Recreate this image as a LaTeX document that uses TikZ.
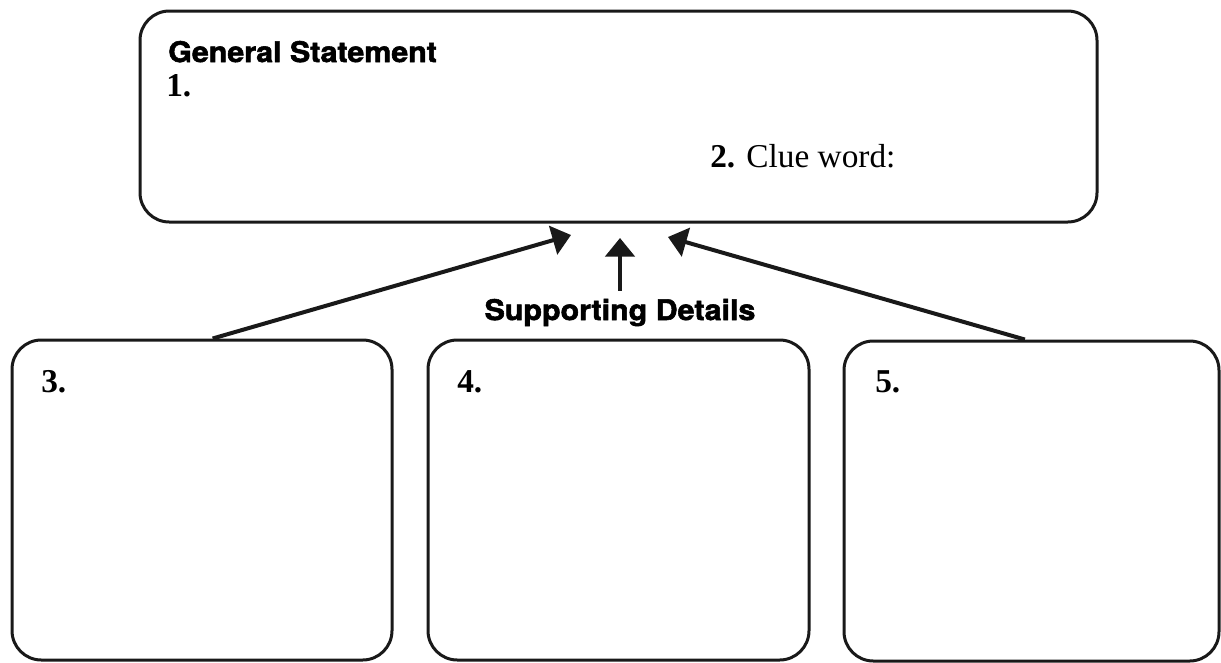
\documentclass[tikz,border=0pt]{standalone}
\usepackage{fontspec}
\setmainfont{Liberation Serif}
\newfontfamily\hsans[FakeStretch=1.07,FakeBold=2]{TeX Gyre Heros}
\usetikzlibrary{arrows.meta}
\tikzset{
  box/.style={draw=black!90, line width=2.25pt, rounded corners=22pt, inner sep=0pt},
  arr/.style={draw=black!90, line width=3pt, -{Triangle[length=14pt,width=22pt]}},
  head/.style={font=\hsans\bfseries\fontsize{21.3pt}{24pt}\selectfont, inner sep=0pt},
  num/.style={font=\fontsize{25pt}{28pt}\selectfont, inner sep=0pt, anchor=base west},
}
\begin{document}
\begin{tikzpicture}[x=0.75pt,y=-0.75pt]
\useasboundingbox (0,0) rectangle (1221,662);
\node[box, minimum width=957*0.75pt, minimum height=211*0.75pt] (top) at (618.5,116.5) {};
\node[box, minimum width=380*0.75pt, minimum height=320*0.75pt] (b3) at (202,500) {};
\node[box, minimum width=381*0.75pt, minimum height=320*0.75pt] (b4) at (618.5,500) {};
\node[box, minimum width=375*0.75pt, minimum height=320*0.75pt] (b5) at (1031.5,501) {};
\node[head, anchor=base west] (gs) at (168,62) {General Statement};
\node[num] (n1) at (166,96) {\textbf{1.}};
\node[num] (n2) at (710,167) {\textbf{2.} Clue word:};
\node[head, anchor=base] (sd) at (620,320) {Supporting Details};
\node[num] (n3) at (41,392) {\textbf{3.}};
\node[num] (n4) at (457,392) {\textbf{4.}};
\node[num] (n5) at (875,392) {\textbf{5.}};
\coordinate (tl) at (571,235);
\coordinate (tm) at (620,238);
\coordinate (tr) at (668,237);
\draw[arr] ([xshift=8pt]b3.north) -- (tl);
\draw[arr] ([yshift=6pt]sd.north) -- (tm);
\draw[arr] ([xshift=-5pt]b5.north) -- (tr);
\end{tikzpicture}
\end{document}
